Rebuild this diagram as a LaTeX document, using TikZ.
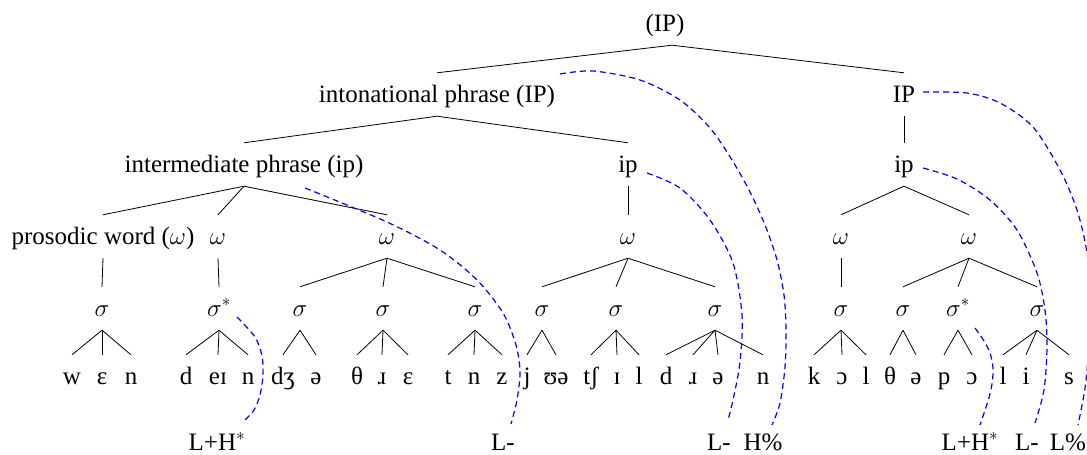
\documentclass[tikz,border=0pt]{standalone}
\usepackage{fontspec}
\setmainfont{Liberation Serif}
\begin{document}
\begin{tikzpicture}[x=1pt,y=-1pt,
  lab/.style={anchor=base, inner xsep=1pt, inner ysep=8pt, text height=21pt, text depth=6pt, font=\fontsize{25}{30}\selectfont},
  tone/.style={anchor=base, inner sep=0pt, font=\fontsize{25}{30}\selectfont},
  br/.style={line width=0.8pt, black},
  tie/.style={blue, line width=1.2pt, dash pattern=on 6pt off 4pt}]
\useasboundingbox (0,0) rectangle (1087,455);
% phrase levels
\node[lab] (top) at (665,31) {(IP)};
\node[lab] (IPL) at (437,102) {intonational phrase (IP)};
\node[lab] (IPR) at (904,102) {IP};
\node[lab] (ipA) at (244,172) {intermediate phrase (ip)};
\node[lab] (ipB) at (628,172) {ip};
\node[lab] (ipC) at (904,172) {ip};
% words
\node[lab] (w1) at (103,244) {prosodic word ($\omega$)};
\node[lab] (w2) at (218,244) {$\omega$};
\node[lab] (w3) at (387,244) {$\omega$};
\node[lab] (w4) at (628,244) {$\omega$};
\node[lab] (w5) at (841,244) {$\omega$};
\node[lab] (w6) at (969,244) {$\omega$};
% syllables
\node[lab] (s1) at (102,316) {$\sigma$};
\node[lab] (s2) at (219,316) {$\sigma^*$};
\node[lab] (s3) at (300,316) {$\sigma$};
\node[lab] (s4) at (383,316) {$\sigma$};
\node[lab] (s5) at (475,316) {$\sigma$};
\node[lab] (s6) at (542,316) {$\sigma$};
\node[lab] (s7) at (616,316) {$\sigma$};
\node[lab] (s8) at (715,316) {$\sigma$};
\node[lab] (s9) at (841,316) {$\sigma$};
\node[lab] (s10) at (903,316) {$\sigma$};
\node[lab] (s11) at (958,316) {$\sigma^*$};
\node[lab] (s12) at (1037,316) {$\sigma$};
% segments
\node[lab] (g1) at (72,384) {w};
\node[lab] (g2) at (102,384) {ɛ};
\node[lab] (g3) at (131,384) {n};
\node[lab] (g4) at (186,384) {d};
\node[lab] (g5) at (218,384) {eɪ};
\node[lab] (g6) at (248,384) {n};
\node[lab] (g7) at (283,384) {dʒ};
\node[lab] (g8) at (316,384) {ə};
\node[lab] (g9) at (357,384) {θ};
\node[lab] (g10) at (382,384) {ɹ};
\node[lab] (g11) at (408,384) {ɛ};
\node[lab] (g12) at (448,384) {t};
\node[lab] (g13) at (474,384) {n};
\node[lab] (g14) at (502,384) {z};
\node[lab] (g15) at (527,384) {j};
\node[lab] (g16) at (556,384) {ʊə};
\node[lab] (g17) at (591,384) {tʃ};
\node[lab] (g18) at (617,384) {ɪ};
\node[lab] (g19) at (639,384) {l};
\node[lab] (g20) at (666,384) {d};
\node[lab] (g21) at (693,384) {ɹ};
\node[lab] (g22) at (718,384) {ə};
\node[lab] (g23) at (763,384) {n};
\node[lab] (g24) at (814,384) {k};
\node[lab] (g25) at (842,384) {ɔ};
\node[lab] (g26) at (866,384) {l};
\node[lab] (g27) at (890,384) {θ};
\node[lab] (g28) at (916,384) {ə};
\node[lab] (g29) at (944,384) {p};
\node[lab] (g30) at (972,384) {ɔ};
\node[lab] (g31) at (1003,384) {l};
\node[lab] (g32) at (1026,384) {i};
\node[lab] (g33) at (1069,384) {s};
% tones
\node[tone] (t1) at (217,450) {L+H$^*$};
\node[tone] (t2) at (503,450) {L-};
\node[tone] (t3) at (719,450) {L-};
\node[tone] (t4) at (763,450) {H\%};
\node[tone] (t5) at (970,450) {L+H$^*$};
\node[tone] (t6) at (1027,450) {L-};
\node[tone] (t7) at (1068,450) {L\%};
% tree branches
\draw[br] ([xshift=7pt]top.south) -- (IPL.north);
\draw[br] ([xshift=7pt]top.south) -- (IPR.north);
\foreach \p/\c in {IPL/ipA, IPL/ipB, IPR/ipC,
  ipA/w1, ipA/w2, ipA/w3, ipB/w4, ipC/w5, ipC/w6,
  w1/s1, w2/s2, w3/s3, w3/s4, w3/s5, w4/s6, w4/s7, w4/s8,
  w5/s9, w6/s10, w6/s11, w6/s12,
  s1/g1, s1/g2, s1/g3, s2/g4, s2/g5, s2/g6, s3/g7, s3/g8,
  s4/g9, s4/g10, s4/g11, s5/g12, s5/g13, s5/g14, s6/g15, s6/g16,
  s7/g17, s7/g18, s7/g19, s8/g20, s8/g21, s8/g22, s8/g23,
  s9/g24, s9/g25, s9/g26, s10/g27, s10/g28, s11/g29, s11/g30,
  s12/g31, s12/g32, s12/g33}
  \draw[br] (\p.south) -- (\c.north);
% association lines (tones)
\coordinate (a1) at (237,317);  \coordinate (b1) at (243,422);
\coordinate (a2) at (305,188);  \coordinate (b2) at (511,424);
\coordinate (a3) at (647,173);  \coordinate (b3) at (728,420);
\coordinate (a4) at (560,74);   \coordinate (b4) at (772,425);
\coordinate (a5) at (975,328);  \coordinate (b5) at (980,425);
\coordinate (a6) at (923,168);  \coordinate (b6) at (1035,423);
\coordinate (a7) at (923,92);   \coordinate (b7) at (1078,425);
\draw[tie] plot[smooth] coordinates {(a1) (255,337) (262,356) (263,375) (260,395) (254,410) (b1)};
\draw[tie] plot[smooth] coordinates {(a2) (387,222) (440,250) (477,280) (503,313) (516,345) (520,372) (517,400) (b2)};
\draw[tie] plot[smooth] coordinates {(a3) (680,188) (710,220) (733,263) (742,315) (740,362) (733,400) (b3)};
\draw[tie] plot[smooth] coordinates {(a4) (593,71) (640,80) (680,100) (710,128) (732,160) (750,192) (765,225) (777,260) (784,295) (786,330) (785,367) (780,403) (b4)};
\draw[tie] plot[smooth] coordinates {(a5) (984,341) (990,353) (993,368) (992,384) (988,401) (b5)};
\draw[tie] plot[smooth] coordinates {(a6) (957,179) (990,200) (1017,230) (1037,273) (1045,310) (1047,347) (1044,390) (b6)};
\draw[tie] plot[smooth] coordinates {(a7) (967,93) (1000,103) (1033,127) (1060,170) (1077,210) (1087,253) (1090,300) (1089,345) (1085,388) (b7)};
\end{tikzpicture}
\end{document}
